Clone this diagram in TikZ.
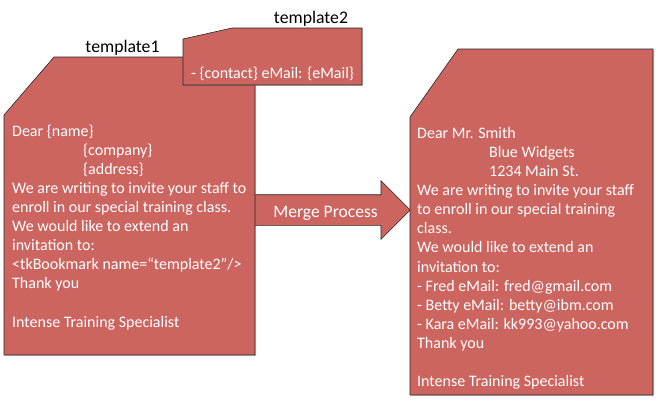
\documentclass[tikz,border=0pt]{standalone}
\usepackage{fontspec}
\setmainfont{Carlito}
\usetikzlibrary{shapes.arrows}
\usetikzlibrary{shadows}
\definecolor{docred}{RGB}{204,101,95}
\tikzset{
  docfill/.style={fill=docred, draw=black!85, line width=0.6bp,
    drop shadow={shadow xshift=1.2bp, shadow yshift=-1.2bp, opacity=0.35}},
  doctext/.style={anchor=north west, inner sep=0pt, align=left, text=white,
    font=\fontsize{16.05}{19.1}\selectfont},
  doclabel/.style={anchor=base, inner sep=0pt, font=\fontsize{17.8}{21}\selectfont},
  mergetext/.style={anchor=base, inner sep=0pt, text=white, font=\fontsize{17.6}{21}\selectfont}
}
\newcommand{\docpage}[6]{\filldraw[docfill] ( #1+#5 , #2 ) -- ( #3 , #2 ) -- ( #3 , #4 ) -- ( #1 , #4 ) -- ( #1 , #2+#6 ) -- cycle;}

\begin{document}
\begin{tikzpicture}[x=1bp, y=-1bp]
            \useasboundingbox (0,0) rectangle (658,417);
            % merge arrow
            \node[single arrow, anchor=tail, fill=docred, draw=black!85, line width=0.6bp,
                  minimum height=160bp, single arrow head extend=14bp,
                  text height=11bp, text depth=4bp, inner ysep=7.5bp, inner xsep=4bp] (merge) at (250,210) {};
            \node[mergetext] (mergelabel) at (325.5,217) {Merge Process};
            % template 1
            \docpage{4}{57}{255}{355}{50}{58}
            \node[doclabel] (label1) at (122.5,52) {template1};
            \node[doctext] (body1) at (12,125) {Dear \{name\}\\
                \hspace*{71bp}\{company\}\\
                \hspace*{71bp}\{address\}\\
                We are writing to invite your staff to\\
                enroll in our special training class.\\
                We would like to extend an\\
                invitation to:\\
                <tkBookmark name=“template2”/>\\
                Thank you\\
                \mbox{}\\
                Intense Training Specialist};
            % template 2
            \docpage{183}{28}{362}{85}{49}{11}
            \node[doclabel] (label2) at (311,23) {template2};
            \node[doctext, anchor=base west] (body2) at (191,78) {- \{contact\} eMail: \{eMail\}};
            % merged result
            \docpage{410}{49}{653}{395}{48}{68}
            \node[doctext] (body3) at (417,127.5) {Dear Mr. Smith\\
                \hspace*{72bp}Blue Widgets\\
                \hspace*{72bp}1234 Main St.\\
                We are writing to invite your staff\\
                to enroll in our special training\\
                class.\\
                We would like to extend an\\
                invitation to:\\
                - Fred eMail: fred@gmail.com\\
                - Betty eMail: betty@ibm.com\\
                - Kara eMail: kk993@yahoo.com\\
                Thank you\\
                \mbox{}\\
                Intense Training Specialist};
\end{tikzpicture}
\end{document}
